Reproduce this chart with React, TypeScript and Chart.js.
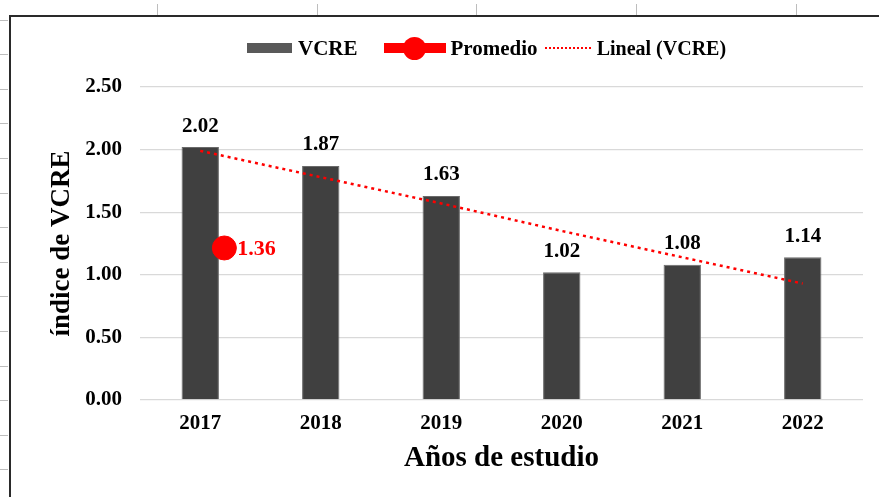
import React, { useEffect, useRef } from "react";
import { Chart, registerables } from "chart.js";

Chart.register(...registerables);

// ---- Data ----
const years = ["2017", "2018", "2019", "2020", "2021", "2022"];
const vcre = [2.02, 1.87, 1.63, 1.02, 1.08, 1.14];
const lineal = [1.99, 1.78, 1.57, 1.35, 1.14, 0.93];
const promedio = [1.36];
const yTickValues = [0, 0.5, 1.0, 1.5, 2.0, 2.5];

const FONT = "'Liberation Serif', 'Times New Roman', serif";

const valueLabels = {
  id: "valueLabels",
  afterDatasetsDraw(chart: any) {
    const ctx = chart.ctx;
    ctx.save();
    const barMeta = chart.getDatasetMeta(2);
    ctx.font = `bold 21px ${FONT}`;
    ctx.fillStyle = "#000";
    ctx.textAlign = "center";
    ctx.textBaseline = "middle";
    barMeta.data.forEach((el: any, i: number) => {
      ctx.fillText(vcre[i].toFixed(2), el.x, el.y - 21);
    });
    const pm = chart.getDatasetMeta(1);
    ctx.font = `bold 22px ${FONT}`;
    ctx.fillStyle = "#ff0000";
    ctx.textAlign = "left";
    pm.data.forEach((el: any, i: number) => {
      ctx.fillText(promedio[i].toFixed(2), el.x + 13, el.y + 1);
    });
    ctx.restore();
  },
};

export default function App() {
  const ref = useRef<HTMLCanvasElement | null>(null);

  useEffect(() => {
    if (!ref.current) return;
    const chart = new Chart(ref.current, {
      type: "bar",
      data: {
        datasets: [
          {
            type: "line",
            label: "Lineal (VCRE)",
            data: lineal.map((v, i) => ({ x: i, y: v })),
            borderColor: "#ff0000",
            borderWidth: 2.5,
            borderDash: [3, 4],
            pointRadius: 0,
            fill: false,
            order: 0,
          } as any,
          {
            type: "line",
            label: "Promedio",
            data: promedio.map((v) => ({ x: 0.2, y: v })),
            yAxisID: "y2",
            showLine: false,
            backgroundColor: "#ff0000",
            borderColor: "#ff0000",
            pointRadius: 12,
            pointHoverRadius: 12,
            order: 1,
          } as any,
          {
            type: "bar",
            label: "VCRE",
            data: vcre.map((v, i) => ({ x: i, y: v })),
            backgroundColor: "#404040",
            borderColor: "#6a6a6a",
            borderWidth: 1,
            barPercentage: 0.31,
            categoryPercentage: 1,
            grouped: false,
            order: 3,
          } as any,
        ],
      },
      options: {
        animation: false,
        responsive: false,
        maintainAspectRatio: false,
        devicePixelRatio: 1,
        layout: { padding: { top: 87, right: 16, left: 0, bottom: 0 } },
        plugins: {
          legend: { display: false },
          tooltip: { enabled: false },
          title: { display: false },
        },
        scales: {
          x: {
            type: "linear",
            min: -0.5,
            max: years.length - 0.5,
            offset: false,
            grid: { display: false, drawTicks: false },
            border: { display: false },
            afterBuildTicks: (s: any) => {
              s.ticks = years.map((_, i) => ({ value: i }));
            },
            ticks: {
              color: "#000",
              font: { family: FONT, size: 21, weight: "bold" },
              padding: 11,
              autoSkip: false,
              maxRotation: 0,
              callback: (v: any) => years[Math.round(Number(v))],
            },
            title: {
              display: true,
              text: "Años de estudio",
              color: "#000",
              font: { family: FONT, size: 29, weight: "bold" },
              padding: { top: 0, bottom: 21 },
            },
            afterFit: (s: any) => {
              s.height = 97;
            },
          },
          y: {
            min: 0,
            max: 2.5,
            grid: { color: "#d9d9d9", lineWidth: 1.3, drawTicks: false },
            border: { display: false },
            afterBuildTicks: (s: any) => {
              s.ticks = yTickValues.map((v) => ({ value: v }));
            },
            ticks: {
              color: "#000",
              padding: 18,
              font: { family: FONT, size: 21, weight: "bold" },
              callback: (v: any) => Number(v).toFixed(2),
            },
            title: {
              display: true,
              text: "índice de VCRE",
              color: "#000",
              font: { family: FONT, size: 27, weight: "bold" },
              padding: { top: 46, bottom: 0 },
            },
            afterFit: (s: any) => {
              s.width = 140;
            },
          },
          y2: {
            type: "linear",
            display: false,
            min: 0,
            max: 2.8,
          },
        },
      } as any,
      plugins: [valueLabels],
    });
    return () => chart.destroy();
  }, []);

  const leftTicks = Array.from({ length: 14 }, (_, i) => 19.5 + i * 34.6);
  const topTicks = [157, 317, 476, 636, 796];
  const textStyle: React.CSSProperties = {
    fontFamily: FONT,
    fontWeight: "bold",
    fontSize: 21,
    color: "#000",
    whiteSpace: "nowrap",
    lineHeight: "24px",
  };

  return (
    <div
      style={{
        position: "fixed",
        left: 0,
        top: 0,
        width: 879,
        height: 497,
        background: "#fff",
        overflow: "hidden",
      }}
    >
      <canvas ref={ref} width={879} height={497} style={{ display: "block" }} />
      {/* frame */}
      <div
        style={{
          position: "absolute",
          left: 9,
          top: 15,
          width: 900,
          height: 520,
          borderLeft: "2px solid #2a2a2a",
          borderTop: "2px solid #2a2a2a",
          pointerEvents: "none",
        }}
      />
      {topTicks.map((x) => (
        <div
          key={"t" + x}
          style={{ position: "absolute", left: x, top: 4, width: 1, height: 11, background: "#bdbdbd" }}
        />
      ))}
      {leftTicks.map((y) => (
        <div
          key={"l" + y}
          style={{ position: "absolute", left: 0, top: y, width: 8, height: 1, background: "#bdbdbd" }}
        />
      ))}
      {/* legend */}
      <div
        style={{
          position: "absolute",
          left: 247,
          top: 36,
          height: 24,
          display: "flex",
          alignItems: "center",
          pointerEvents: "none",
        }}
      >
        <span style={{ display: "inline-block", width: 45, height: 10, background: "#595959", marginRight: 6 }} />
        <span style={{ ...textStyle, marginRight: 26 }}>VCRE</span>
        <span style={{ position: "relative", display: "inline-block", width: 62, height: 24, marginRight: 5 }}>
          <span
            style={{ position: "absolute", left: 0, top: 7, width: 62, height: 10, background: "#ff0000" }}
          />
          <span
            style={{
              position: "absolute",
              left: 19.5,
              top: 0.5,
              width: 23,
              height: 23,
              borderRadius: "50%",
              background: "#ff0000",
            }}
          />
        </span>
        <span style={{ ...textStyle, marginRight: 7 }}>Promedio</span>
        <span
          style={{ display: "inline-block", width: 46, height: 0, borderTop: "2.5px dotted #ff0000", marginRight: 6 }}
        />
        <span style={{ ...textStyle, fontSize: 20 }}>Lineal (VCRE)</span>
      </div>
    </div>
  );
}
